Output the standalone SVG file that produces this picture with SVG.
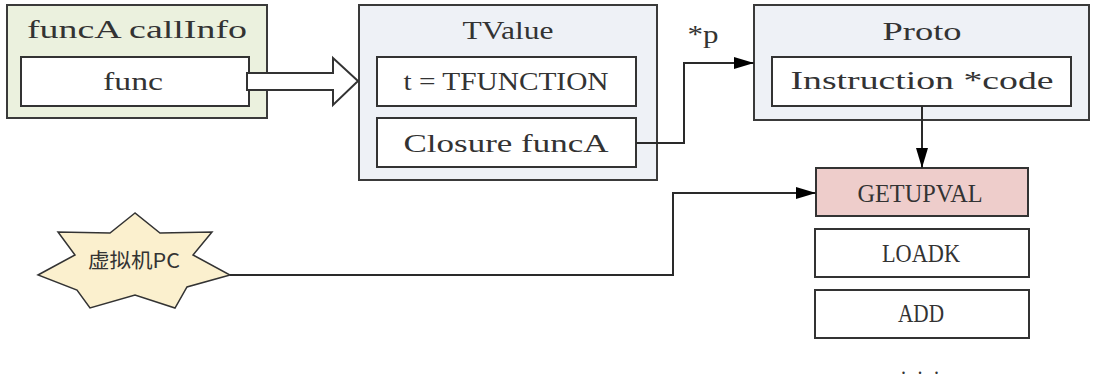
<svg xmlns="http://www.w3.org/2000/svg" width="1093" height="381" viewBox="0 0 1093 381">
<style>
.t{font-family:"Liberation Serif","DejaVu Serif",serif;font-size:26px;fill:#333;text-anchor:middle}
.outer{stroke:#3a3a3a;stroke-width:2}
.inner{fill:#fff;stroke:#333;stroke-width:2}
.conn{fill:none;stroke:#2a2a2a;stroke-width:2}
</style>
<defs>
<marker id="ah" viewBox="0 0 20 12" refX="20" refY="6" markerWidth="20" markerHeight="12" markerUnits="userSpaceOnUse" orient="auto">
<path d="M0,0 L20,6 L0,12 z" fill="#000"/>
</marker>
</defs>
<rect width="1093" height="381" fill="#fff"/>
<g id="callinfo">
<rect class="outer" x="7" y="5" width="260" height="113" fill="#EBF1DE"/>
<text class="t" x="137" y="38" textLength="220" lengthAdjust="spacingAndGlyphs">funcA callInfo</text>
<rect class="inner" x="21" y="57" width="228" height="49"/>
<text class="t" x="133" y="90" textLength="60" lengthAdjust="spacingAndGlyphs">func</text>
</g>
<g id="tvalue">
<rect class="outer" x="359" y="5" width="298" height="175" fill="#EEF1F6"/>
<text class="t" x="508" y="39" textLength="91" lengthAdjust="spacingAndGlyphs">TValue</text>
<rect class="inner" x="377" y="57" width="259" height="49"/>
<text class="t" x="506" y="90" textLength="205" lengthAdjust="spacingAndGlyphs">t = TFUNCTION</text>
<rect class="inner" x="377" y="118" width="259" height="49"/>
<text class="t" x="506" y="152" textLength="205" lengthAdjust="spacingAndGlyphs">Closure funcA</text>
</g>
<g id="proto">
<rect class="outer" x="754" y="5" width="335" height="115" fill="#EEF1F6"/>
<text class="t" x="922" y="40" textLength="79" lengthAdjust="spacingAndGlyphs">Proto</text>
<rect class="inner" x="772" y="57" width="299" height="49"/>
<text class="t" x="922" y="89" textLength="263" lengthAdjust="spacingAndGlyphs">Instruction *code</text>
</g>
<g id="getupval">
<rect class="inner" x="816" y="168" width="212" height="48" style="fill:#EECDCB"/>
<text class="t" x="920" y="202" textLength="125" lengthAdjust="spacingAndGlyphs">GETUPVAL</text>
</g>
<g id="loadk">
<rect class="inner" x="815" y="229" width="214" height="48"/>
<text class="t" x="921" y="262" textLength="78" lengthAdjust="spacingAndGlyphs">LOADK</text>
</g>
<g id="add">
<rect class="inner" x="815" y="290" width="214" height="48"/>
<text class="t" x="921" y="322" textLength="46" lengthAdjust="spacingAndGlyphs">ADD</text>
</g>
<g id="more">
<text class="t" x="920" y="374" style="font-size:20px" textLength="38" lengthAdjust="spacing">...</text>
</g>
<g id="pc">
<polygon points="135,213 110,233 58,232 75,255 38,275 77,290 90,308 135,295 175,308 187,287 230,275 193,255 212,232 160,233" fill="#FBF0CE" stroke="#333" stroke-width="1.5"/>
<text x="134" y="268" font-family="'Noto Sans CJK SC',sans-serif" font-size="20" fill="#333" text-anchor="middle" textLength="92" lengthAdjust="spacingAndGlyphs">虚拟机PC</text>
</g>
<g id="connectors">
<polygon points="247,73 333,73 333,58 358,81 333,105 333,90 247,90" fill="#fff" stroke="#333" stroke-width="2"/>
<path class="conn" d="M636,143 H684 V63 H754" marker-end="url(#ah)"/>
<text class="t" x="703" y="43" textLength="31" lengthAdjust="spacingAndGlyphs">*p</text>
<path class="conn" d="M922,106 V168" marker-end="url(#ah)"/>
<path class="conn" d="M230,275 H673 V193 H816" marker-end="url(#ah)"/>
</g>
</svg>
